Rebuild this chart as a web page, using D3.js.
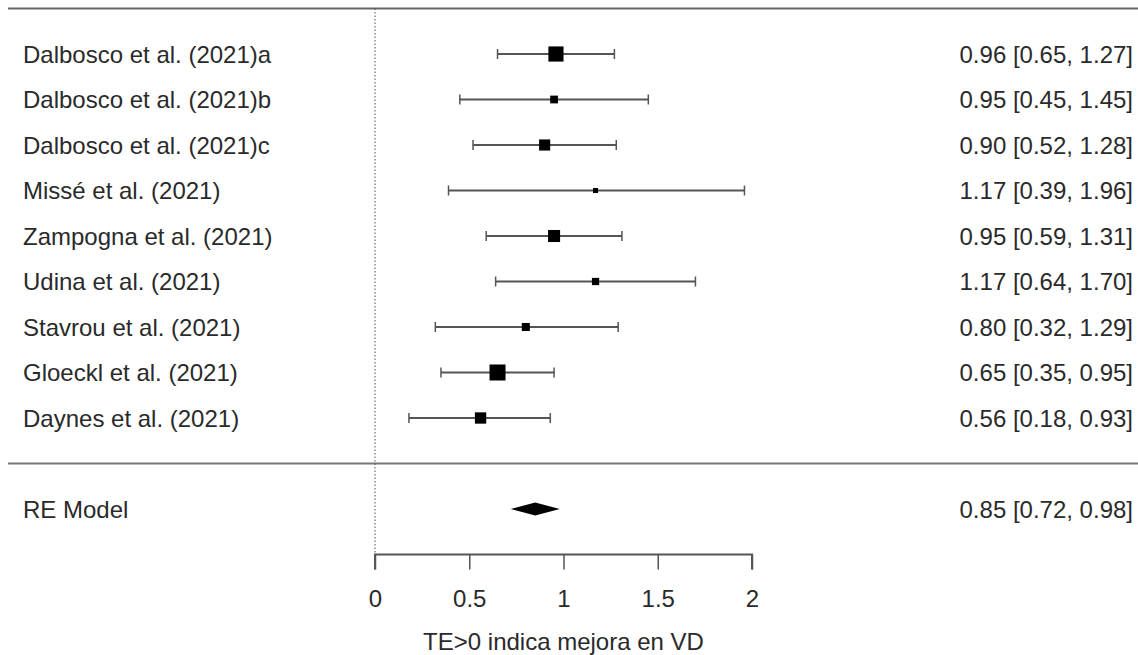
<!DOCTYPE html>
<html>
<head>
<meta charset="utf-8">
<script src="https://cdn.jsdelivr.net/npm/d3@7"></script>
<style>
  html, body { margin: 0; padding: 0; background: #fff; }
  text { font-family: "Liberation Sans", Arial, sans-serif; fill: #2a2a2a; }
</style>
</head>
<body>
<div id="chart"></div>
<script>
// study data
const studies = ['Dalbosco et al. (2021)a', 'Dalbosco et al. (2021)b', 'Dalbosco et al. (2021)c',
  'Missé et al. (2021)', 'Zampogna et al. (2021)', 'Udina et al. (2021)',
  'Stavrou et al. (2021)', 'Gloeckl et al. (2021)', 'Daynes et al. (2021)'];
const estimates = [0.96, 0.95, 0.90, 1.17, 0.95, 1.17, 0.80, 0.65, 0.56];
const lower = [0.65, 0.45, 0.52, 0.39, 0.59, 0.64, 0.32, 0.35, 0.18];
const upper = [1.27, 1.45, 1.28, 1.96, 1.31, 1.70, 1.29, 0.95, 0.93];
const weights = [18.3, 7.1, 12.2, 2.9, 13.6, 6.3, 7.5, 19.6, 12.5];

const pooledLabel = 'RE Model';
const pooled = { est: 0.85, lb: 0.72, ub: 0.98 };

const xTicks = [0, 0.5, 1, 1.5, 2];
const xLabel = 'TE>0 indica mejora en VD';

const width = 1138, height = 655;
const fontSize = 24;

const fmt = d3.format('.2f');
const ciText = (e, l, u) => fmt(e) + ' [' + fmt(l) + ', ' + fmt(u) + ']';

const x = d3.scaleLinear().domain([0, 2]).range([375, 752]);
// row index: 1..9 studies, 10 separator, 11 pooled, 12 axis
const y = d3.scaleLinear().domain([0, 12]).range([8.5, 554.5]);
const size = d3.scaleLinear().domain(d3.extent(weights)).range([5, 16]);

const svg = d3.select('#chart').append('svg')
  .attr('width', width)
  .attr('height', height);

// horizontal rules
svg.append('line')
  .attr('x1', 8).attr('x2', width)
  .attr('y1', y(0)).attr('y2', y(0))
  .attr('stroke', '#666').attr('stroke-width', 2);

svg.append('line')
  .attr('x1', 8).attr('x2', width)
  .attr('y1', y(10)).attr('y2', y(10))
  .attr('stroke', '#777').attr('stroke-width', 2);

// reference line at 0
svg.append('line')
  .attr('x1', x(0)).attr('x2', x(0))
  .attr('y1', y(0)).attr('y2', y(12))
  .attr('stroke', '#555').attr('stroke-width', 1)
  .attr('stroke-dasharray', '1.5,2');

const rows = studies.map((s, i) => ({
  name: s, est: estimates[i], lb: lower[i], ub: upper[i], w: weights[i], row: i + 1
}));

const g = svg.append('g');

const row = g.selectAll('.study')
  .data(rows)
  .enter()
  .append('g')
  .attr('class', 'study');

row.append('text')
  .attr('x', 23)
  .attr('y', d => y(d.row))
  .attr('dy', '0.36em')
  .style('font-size', fontSize + 'px')
  .text(d => d.name);

row.append('text')
  .attr('x', 1133)
  .attr('y', d => y(d.row))
  .attr('dy', '0.36em')
  .attr('text-anchor', 'end')
  .style('font-size', fontSize + 'px')
  .text(d => ciText(d.est, d.lb, d.ub));

row.append('line')
  .attr('x1', d => x(d.lb)).attr('x2', d => x(d.ub))
  .attr('y1', d => y(d.row)).attr('y2', d => y(d.row))
  .attr('stroke', '#555').attr('stroke-width', 1.8);

row.selectAll('.cap')
  .data(d => [d.lb, d.ub].map(v => ({ v: v, row: d.row })))
  .enter()
  .append('line')
  .attr('x1', d => x(d.v)).attr('x2', d => x(d.v))
  .attr('y1', d => y(d.row) - 5).attr('y2', d => y(d.row) + 5)
  .attr('stroke', '#555').attr('stroke-width', 1.5);

row.append('rect')
  .attr('x', d => x(d.est) - size(d.w) / 2)
  .attr('y', d => y(d.row) - size(d.w) / 2)
  .attr('width', d => size(d.w))
  .attr('height', d => size(d.w))
  .attr('fill', '#000');

// pooled estimate
g.append('text')
  .attr('x', 23)
  .attr('y', y(11))
  .attr('dy', '0.36em')
  .style('font-size', fontSize + 'px')
  .text(pooledLabel);

g.append('text')
  .attr('x', 1133)
  .attr('y', y(11))
  .attr('dy', '0.36em')
  .attr('text-anchor', 'end')
  .style('font-size', fontSize + 'px')
  .text(ciText(pooled.est, pooled.lb, pooled.ub));

const py = y(11);
g.append('path')
  .attr('d', 'M' + x(pooled.lb) + ',' + py +
    'L' + x(pooled.est) + ',' + (py - 6.5) +
    'L' + x(pooled.ub) + ',' + py +
    'L' + x(pooled.est) + ',' + (py + 6.5) + 'Z')
  .attr('fill', '#000');

// x axis
const axis = svg.append('g')
  .attr('transform', 'translate(0,' + y(12) + ')')
  .call(d3.axisBottom(x).tickValues(xTicks).tickSize(15).tickPadding(20).tickFormat(d3.format('')));

axis.select('.domain')
  .attr('stroke', '#555').attr('stroke-width', 2)
  .attr('d', 'M' + x(0) + ',15V0H' + x(2) + 'V15');
axis.selectAll('.tick line').attr('stroke', '#555').attr('stroke-width', 1.5);
axis.selectAll('.tick text')
  .style('font-size', fontSize + 'px')
  .style('font-family', '"Liberation Sans", Arial, sans-serif')
  .attr('fill', '#2a2a2a');

svg.append('text')
  .attr('x', x(1))
  .attr('y', 641)
  .attr('dy', '0.36em')
  .attr('text-anchor', 'middle')
  .style('font-size', fontSize + 'px')
  .text(xLabel);
</script>
</body>
</html>
